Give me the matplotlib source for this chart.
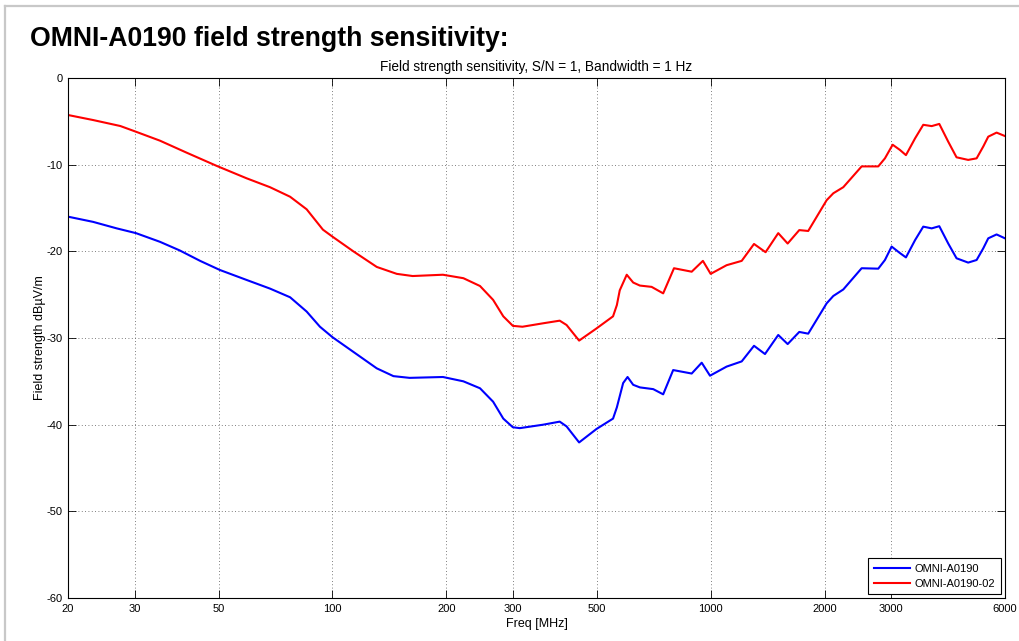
"""
Field strength sensitivity plot for the OMNI-A0190 antenna
(two variants, log frequency axis, MATLAB-like look).
Saves out.png
"""

import matplotlib
matplotlib.use("Agg")
import matplotlib.pyplot as plt
from matplotlib.lines import Line2D

# ---- Data ----
FREQ_A0190 = [20, 23.3, 26.9, 30.25, 35, 39.5, 44.7, 50.4, 59.3, 68.4, 77.3, 85.5,
              92.7, 100, 113.6, 131, 145, 160, 196, 222, 245.6, 266, 283, 300,
              313, 361, 399, 416, 449, 499, 552, 565, 587, 603, 624, 650, 705,
              749, 796, 891, 947, 996, 1102, 1208, 1302, 1392, 1509, 1598, 1715,
              1811, 2026, 2110, 2242, 2507, 2774, 2889, 3009, 3165, 3283, 3471,
              3648, 3840, 4022, 4247, 4467, 4795, 5048, 5257, 5418, 5700, 6000]
FS_A0190 = [-16.0, -16.6, -17.35, -17.9, -18.9, -19.9, -21.1, -22.15, -23.3, -24.3,
            -25.3, -26.95, -28.7, -29.9, -31.6, -33.5, -34.4, -34.6, -34.5, -35.0,
            -35.8, -37.35, -39.3, -40.3, -40.4, -40.0, -39.65, -40.2, -42.05,
            -40.5, -39.3, -38.0, -35.2, -34.5, -35.4, -35.7, -35.9, -36.5, -33.7,
            -34.1, -32.85, -34.35, -33.3, -32.7, -30.9, -31.85, -29.65, -30.7,
            -29.3, -29.5, -26.0, -25.15, -24.4, -21.95, -22.0, -21.0, -19.45,
            -20.2, -20.7, -18.7, -17.15, -17.35, -17.1, -19.1, -20.8, -21.3,
            -21.0, -19.65, -18.5, -18.05, -18.5]

FREQ_A0190_02 = [20, 23.3, 27.5, 30.25, 35, 41.1, 49.5, 59.3, 68.4, 77.3, 85.5,
                 94.4, 100, 113.6, 131, 148, 163, 196, 222, 245.6, 266, 283, 300,
                 318, 361, 399, 416, 449, 499, 552, 565, 575, 600, 624, 650, 698,
                 749, 800, 891, 954, 1000, 1102, 1208, 1302, 1397, 1509, 1598,
                 1715, 1811, 2026, 2110, 2242, 2507, 2774, 2889, 3028, 3165, 3283,
                 3471, 3648, 3840, 4022, 4247, 4467, 4795, 5048, 5257, 5418, 5700,
                 6000]
FS_A0190_02 = [-4.27, -4.85, -5.54, -6.2, -7.23, -8.6, -10.15, -11.57, -12.6, -13.7,
               -15.15, -17.5, -18.3, -20.0, -21.8, -22.6, -22.85, -22.7, -23.1,
               -24.0, -25.6, -27.5, -28.6, -28.7, -28.3, -28.0, -28.5, -30.3,
               -28.9, -27.5, -26.2, -24.5, -22.7, -23.6, -23.95, -24.1, -24.85,
               -21.95, -22.35, -21.1, -22.6, -21.6, -21.1, -19.15, -20.1, -17.9,
               -19.1, -17.55, -17.65, -14.1, -13.3, -12.6, -10.2, -10.2, -9.27,
               -7.7, -8.3, -8.9, -6.96, -5.4, -5.55, -5.3, -7.35, -9.15, -9.45,
               -9.27, -7.9, -6.77, -6.3, -6.7]

X_TICKS = [20, 30, 50, 100, 200, 300, 500, 1000, 2000, 3000, 6000]
Y_TICKS = [0, -10, -20, -30, -40, -50, -60]

# ---- Style ----
FONT = ["Liberation Sans", "DejaVu Sans"]
W, H = 1019, 641


def main():
    plt.rcParams["font.family"] = FONT

    fig = plt.figure(figsize=(W / 100, H / 100), dpi=100, facecolor="white")
    ax = fig.add_axes([68 / W, 1 - 598 / H, (1005 - 68) / W, (598 - 78) / H])

    # grey page frame (left + top edges)
    frame = "#c8c8c8"
    fig.add_artist(Line2D([5 / W, 5 / W], [0, 1 - 6 / H], color=frame, lw=1.6,
                          transform=fig.transFigure))
    fig.add_artist(Line2D([5 / W, 1], [1 - 6 / H, 1 - 6 / H], color=frame, lw=1.6,
                          transform=fig.transFigure))

    fig.text(30 / W, 1 - 46 / H, "OMNI-A0190 field strength sensitivity:",
             fontsize=19.2, fontweight="bold", ha="left", va="baseline")

    ax.plot(FREQ_A0190, FS_A0190, color="#0000ff", lw=1.5,
            solid_joinstyle="round", label="OMNI-A0190")
    ax.plot(FREQ_A0190_02, FS_A0190_02, color="#ff0000", lw=1.5,
            solid_joinstyle="round", label="OMNI-A0190-02")

    ax.set_xscale("log")
    ax.set_xlim(20, 6000)
    ax.set_ylim(-60, 0)
    ax.set_xticks(X_TICKS)
    ax.set_xticklabels([str(t) for t in X_TICKS])
    ax.minorticks_off()
    ax.set_yticks(Y_TICKS)
    ax.set_yticklabels([str(t) for t in Y_TICKS])

    ax.tick_params(direction="in", length=6, width=0.6, labelsize=8,
                   top=True, right=True, pad=4)
    ax.grid(True, linestyle=(0, (1, 3)), color="#555555", lw=0.6)
    for sp in ax.spines.values():
        sp.set_linewidth(0.8)
        sp.set_color("black")

    ax.set_title("Field strength sensitivity, S/N = 1, Bandwidth = 1 Hz",
                 fontsize=9.8, pad=5)
    ax.set_xlabel("Freq [MHz]", fontsize=9, labelpad=3)
    ax.set_ylabel("Field strength dB\u00b5V/m", fontsize=9, labelpad=0.5)

    leg = ax.legend(loc="lower right", fontsize=8, frameon=True, fancybox=False,
                    edgecolor="black", framealpha=1, borderaxespad=0.35,
                    handlelength=3.3, handletextpad=0.4, borderpad=0.5,
                    labelspacing=0.45)
    leg.get_frame().set_linewidth(0.8)

    fig.savefig("out.png", dpi=100, facecolor="white")
    plt.close(fig)


if __name__ == "__main__":
    main()
